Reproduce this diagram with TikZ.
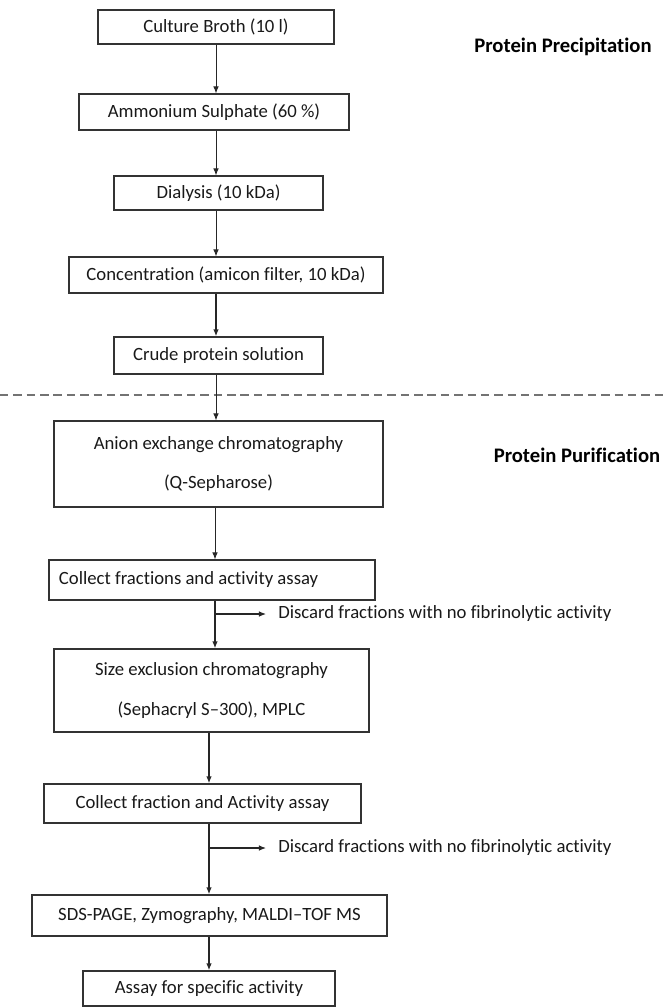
\documentclass[tikz,border=0pt]{standalone}
\usepackage{fontspec}
\setmainfont{Carlito}[Ligatures={TeX,NoCommon}]
\usetikzlibrary{arrows.meta}

\tikzset{
  stepbox/.style={draw=black!80, line width=0.9pt, text=black!90, inner sep=0pt, align=center,
    font=\fontsize{13.3}{15}\selectfont},
  arr/.style={-{Latex[length=5pt,width=4pt]}, draw=black!85, line width=0.6pt},
  arrthick/.style={arr, line width=1.1pt},
  phase/.style={text=black, font=\fontsize{14.7}{17}\selectfont\bfseries},
  note/.style={anchor=west, inner xsep=0.3cm, text=black!90, font=\fontsize{13.3}{15}\selectfont},
  sep/.style={draw=black!55, line width=0.9pt, dash pattern=on 6pt off 3.5pt}
}

\begin{document}
\begin{tikzpicture}[x=0.025cm, y=-0.025cm]
\useasboundingbox (0,0) rectangle (667,1007);

\coordinate (colA) at (216,0);
\coordinate (colB) at (215,0);
\coordinate (colC) at (209,0);

% precipitation
\node[stepbox, minimum width=5.9cm, minimum height=0.85cm] (broth) at (216,27) {Culture Broth (10 l)};
\node[stepbox, minimum width=6.75cm, minimum height=0.9cm] (salt) at (214,112) {Ammonium Sulphate (60 \%)};
\node[stepbox, minimum width=5.225cm, minimum height=0.85cm] (dialysis) at (218.5,193) {Dialysis (10 kDa)};
\node[stepbox, minimum width=7.85cm, minimum height=0.9cm] (conc) at (226,275) {Concentration (amicon filter, 10 kDa)};
\node[stepbox, minimum width=5.225cm, minimum height=0.925cm] (crude) at (218.5,355.5) {Crude protein solution};

\node[phase] (precip) at (563,47) {Protein Precipitation};

\coordinate (sepL) at (0,395);
\coordinate (sepR) at (667,395);
\draw[sep] (sepL) -- (sepR);

% purification
\node[stepbox, minimum width=8.225cm, minimum height=2.15cm] (anion) at (218.5,464)
  {Anion exchange chromatography\\[13pt](Q-Sepharose)};
\node[stepbox, minimum width=8.15cm, minimum height=1cm] (collect) at (212,580)
  {\makebox[7.65cm][l]{Collect fractions and activity assay}};
\node[stepbox, minimum width=7.875cm, minimum height=2.075cm] (sizeex) at (211.5,690.5)
  {Size exclusion chromatography\\[13pt](Sephacryl S--300), MPLC};
\node[stepbox, minimum width=7.925cm, minimum height=0.975cm] (collect2) at (202.5,803.5) {Collect fraction and Activity assay};
\node[stepbox, minimum width=8.875cm, minimum height=1.025cm] (sds) at (209.5,915.5) {SDS-PAGE, Zymography, MALDI--TOF MS};
\node[stepbox, minimum width=6.3cm, minimum height=0.875cm] (assay) at (209,988.5) {Assay for specific activity};

\node[phase] (purif) at (577,455) {Protein Purification};

\node[note] (discard) at (266,614) {Discard fractions with no fibrinolytic activity};
\node[note] (discard2) at (266,848) {Discard fractions with no fibrinolytic activity};
\coordinate (br1) at (215,614);
\coordinate (br2) at (209,848);

\draw[arr] (broth.south -| colA) -- (salt.north -| colA);
\draw[arr] (salt.south -| colA) -- (dialysis.north -| colA);
\draw[arr] (dialysis.south -| colA) -- (conc.north -| colA);
\draw[arrthick] (conc.south -| colA) -- (crude.north -| colA);
\draw[arr] (crude.south -| colA) -- (anion.north -| colA);
\draw[arr] (anion.south -| colB) -- (collect.north -| colB);
\draw[arrthick] (collect.south -| colB) -- (sizeex.north -| colB);
\draw[arr, line width=0.8pt] (br1) -- (discard.west);
\draw[arrthick] (sizeex.south -| colC) -- (collect2.north -| colC);
\draw[arrthick] (collect2.south -| colC) -- (sds.north -| colC);
\draw[arr, line width=0.8pt] (br2) -- (discard2.west);
\draw[arrthick] (sds.south -| colC) -- (assay.north -| colC);
\end{tikzpicture}
\end{document}
